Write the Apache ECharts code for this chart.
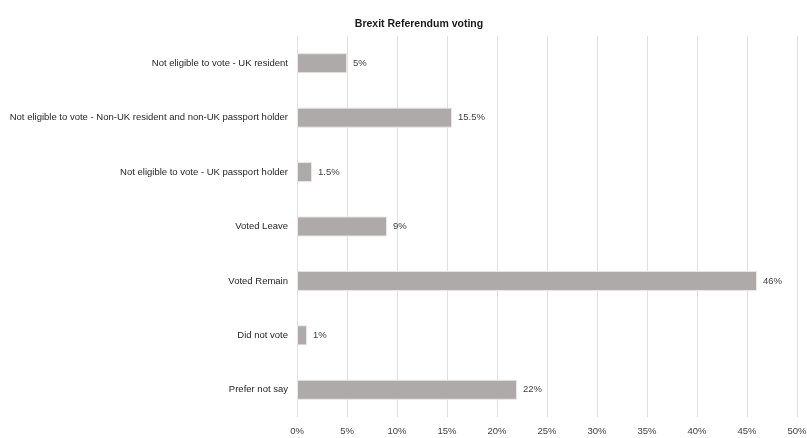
<!DOCTYPE html>
<html><head><meta charset="utf-8">
<script src="https://cdn.jsdelivr.net/npm/echarts@6/dist/echarts.min.js"></script>
<style>html,body{margin:0;padding:0;background:#fff}#c{width:807px;height:438px}</style>
</head><body><div id="c"></div>
<script>
const categories = [
  "Not eligible to vote - UK resident",
  "Not eligible to vote - Non-UK resident and non-UK passport holder",
  "Not eligible to vote - UK passport holder",
  "Voted Leave",
  "Voted Remain",
  "Did not vote",
  "Prefer not say"
];
const values = [5, 15.5, 1.5, 9, 46, 1, 22];
const xTicks = [0, 5, 10, 15, 20, 25, 30, 35, 40, 45, 50];
const title = "Brexit Referendum voting";

const FONT = '"Liberation Sans", Arial, sans-serif';
const chart = echarts.init(document.getElementById('c'), null, {renderer: 'canvas'});
chart.setOption({
  animation: false,
  backgroundColor: '#ffffff',
  title: {
    text: title, left: 414, top: 14, textAlign: 'center',
    textStyle: {fontFamily: FONT, fontSize: 10.5, fontWeight: 'bold', color: '#1a1a1a'}
  },
  grid: {left: 297, right: 10, top: 36, bottom: 21, containLabel: false, outerBoundsMode: 'none'},
  xAxis: {
    type: 'value', min: xTicks[0], max: xTicks[xTicks.length - 1], interval: 5,
    axisLine: {show: false}, axisTick: {show: false},
    splitLine: {show: true, lineStyle: {color: '#e0e0e0', width: 1}},
    axisLabel: {formatter: v => v + '%', color: '#404040', fontFamily: FONT, fontSize: 9.5, margin: 9,
      hideOverlap: false, showMaxLabel: true}
  },
  yAxis: {
    type: 'category', data: categories, inverse: true,
    axisLine: {show: false}, axisTick: {show: false},
    axisLabel: {color: '#262626', fontFamily: FONT, fontSize: 9.5, margin: 9}
  },
  series: [{
    type: 'bar', data: values, barWidth: 20,
    itemStyle: {color: '#aeaaaa', borderColor: '#e8e6e6', borderWidth: 1},
    label: {show: true, position: 'right', distance: 6, formatter: p => p.value + '%',
      color: '#404040', fontFamily: FONT, fontSize: 9.5}
  }]
});
</script></body></html>
